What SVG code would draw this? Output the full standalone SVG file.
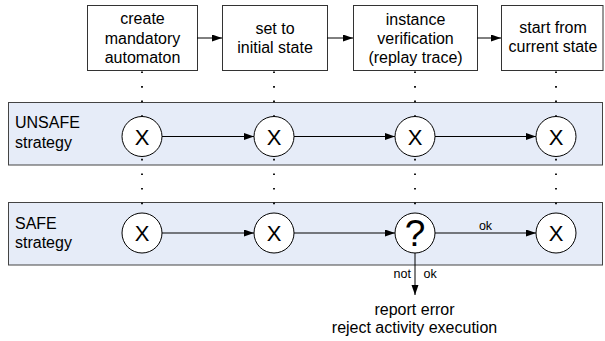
<svg xmlns="http://www.w3.org/2000/svg" width="605" height="341" viewBox="0 0 605 341">
<style>
text{font-family:"Liberation Sans",Arial,sans-serif;fill:#000}
.bt{font-size:16px;text-anchor:middle}
.lt{font-size:16px}
.box{fill:#fff;stroke:#333;stroke-width:1}
.lane{fill:#e6ecf8;stroke:#444;stroke-width:1}
.st{fill:#fff;stroke:#000;stroke-width:1}
.x{font-size:22px;text-anchor:middle}
.q{font-size:37px;text-anchor:middle}
.sm{font-size:12.5px}
.arr{stroke:#000;stroke-width:1;fill:none;marker-end:url(#ah)}
.dot{stroke:#000;stroke-width:1.8;stroke-dasharray:1.6 12.96;fill:none}
</style>
<defs>
<marker id="ah" markerUnits="userSpaceOnUse" markerWidth="11" markerHeight="8" refX="10" refY="3.5" orient="auto">
<path d="M0,0 L10,3.5 L0,7 z" fill="#000"/>
</marker>
</defs>
<rect width="605" height="341" fill="#fff"/>
<g id="lane-unsafe">
<rect class="lane" x="8.5" y="102.5" width="594" height="62.5"/>
<text class="lt" x="15" y="128">UNSAFE</text>
<text class="lt" x="15" y="147.5">strategy</text>
</g>
<g id="lane-safe">
<rect class="lane" x="8.5" y="202.5" width="594" height="62.5"/>
<text class="lt" x="15" y="229">SAFE</text>
<text class="lt" x="15" y="248">strategy</text>
</g>
<g id="box-create">
<rect class="box" x="87.5" y="5.5" width="110" height="65"/>
<text class="bt" x="142.5" y="24">create</text>
<text class="bt" x="142.5" y="44">mandatory</text>
<text class="bt" x="142.5" y="63">automaton</text>
</g>
<g id="box-set">
<rect class="box" x="222.5" y="5.5" width="105" height="65"/>
<text class="bt" x="275" y="34">set to</text>
<text class="bt" x="275" y="53">initial state</text>
</g>
<g id="box-verify">
<rect class="box" x="353.5" y="5.5" width="124" height="65"/>
<text class="bt" x="415.5" y="25">instance</text>
<text class="bt" x="415.5" y="44">verification</text>
<text class="bt" x="415.5" y="63">(replay trace)</text>
</g>
<g id="box-start">
<rect class="box" x="501.5" y="5.5" width="101.5" height="65"/>
<text class="bt" x="553" y="33">start from</text>
<text class="bt" x="553" y="52">current state</text>
</g>
<g id="connectors">
<line class="dot" x1="142" y1="71.5" x2="142" y2="205"/>
<line class="dot" x1="274" y1="71.5" x2="274" y2="205"/>
<line class="dot" x1="415" y1="71.5" x2="415" y2="205"/>
<line class="dot" x1="556" y1="71.5" x2="556" y2="205"/>
<line class="arr" x1="197" y1="38" x2="222" y2="38"/>
<line class="arr" x1="327" y1="38" x2="353" y2="38"/>
<line class="arr" x1="477" y1="38" x2="501" y2="38"/>
<line class="arr" x1="162" y1="136.5" x2="254" y2="136.5"/>
<line class="arr" x1="294" y1="136.5" x2="395" y2="136.5"/>
<line class="arr" x1="435" y1="136.5" x2="536" y2="136.5"/>
<line class="arr" x1="162" y1="233" x2="254" y2="233"/>
<line class="arr" x1="294" y1="233" x2="395" y2="233"/>
<line class="arr" x1="435" y1="233" x2="536" y2="233"/>
<line class="arr" x1="415" y1="253" x2="415" y2="295"/>
<text class="sm" x="485.5" y="229.5" text-anchor="middle">ok</text>
<text class="sm" x="411" y="278" text-anchor="end">not</text>
<text class="sm" x="423.5" y="278">ok</text>
</g>
<g id="u1"><circle class="st" cx="142" cy="136.5" r="20"/><text class="x" x="142" y="144.5">X</text></g>
<g id="u2"><circle class="st" cx="274" cy="136.5" r="20"/><text class="x" x="274" y="144.5">X</text></g>
<g id="u3"><circle class="st" cx="415" cy="136.5" r="20"/><text class="x" x="415" y="144.5">X</text></g>
<g id="u4"><circle class="st" cx="556" cy="136.5" r="20"/><text class="x" x="556" y="144.5">X</text></g>
<g id="s1"><circle class="st" cx="142" cy="233" r="20"/><text class="x" x="142" y="241">X</text></g>
<g id="s2"><circle class="st" cx="274" cy="233" r="20"/><text class="x" x="274" y="241">X</text></g>
<g id="s3"><circle class="st" cx="415" cy="233" r="20"/><text class="q" x="415" y="246">?</text></g>
<g id="s4"><circle class="st" cx="556" cy="233" r="20"/><text class="x" x="556" y="241">X</text></g>
<g id="result">
<text class="bt" x="414.5" y="315">report error</text>
<text class="bt" x="414.5" y="333">reject activity execution</text>
</g>
</svg>
